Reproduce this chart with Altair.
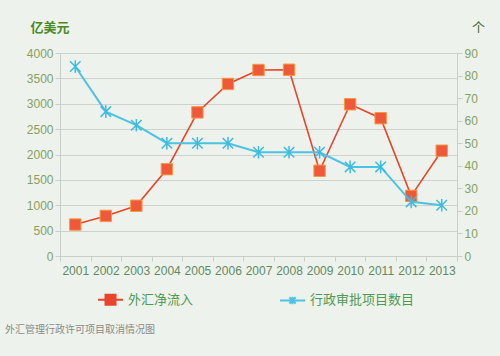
import altair as alt
import pandas as pd

years = ["2001", "2002", "2003", "2004", "2005", "2006", "2007",
         "2008", "2009", "2010", "2011", "2012", "2013"]
fx_inflow = [620, 790, 990, 1710, 2830, 3390, 3665, 3670, 1680, 2990, 2715, 1185, 2075]
approval_items = [84, 64, 58, 50, 50, 50, 46, 46, 46, 39.5, 39.5, 24, 22.5]
series_names = ["外汇净流入", "行政审批项目数目"]
series_colors = ["#e8452c", "#4cc3e2"]
legend_shapes = [
    "M-1,0L1,0M-0.4,-0.4L0.4,-0.4L0.4,0.4L-0.4,0.4ZM-0.28,-0.28L0.28,-0.28L0.28,0.28L-0.28,0.28Z"
    "M-0.16,-0.16L0.16,-0.16L0.16,0.16L-0.16,0.16ZM-0.05,-0.05L0.05,-0.05L0.05,0.05L-0.05,0.05Z",
    "M-1,0L1,0M-0.25,-0.25L0.25,0.25M-0.25,0.25L0.25,-0.25M0,-0.3L0,0.3",
]
left_ticks = [0, 500, 1000, 1500, 2000, 2500, 3000, 3500, 4000]
right_ticks = [0, 10, 20, 30, 40, 50, 60, 70, 80, 90]

df = pd.DataFrame({
    "year": years * 2,
    "series": [series_names[0]] * len(years) + [series_names[1]] * len(years),
    "value": fx_inflow + approval_items,
})

CJK = "Noto Sans CJK SC"
LAT = "Liberation Sans"

x_enc = alt.X("year:O", title=None,
              scale=alt.Scale(type="band", paddingInner=0, paddingOuter=0),
              bandPosition=0.5,
              axis=alt.Axis(labelAngle=0, labelFont=LAT, labelFontSize=12,
                            labelColor="#5f8a62", tickBand="extent",
                            domainColor="#c9cec9", tickColor="#c9cec9",
                            tickSize=5, labelPadding=4, grid=False))

base = alt.Chart(df).encode(x=x_enc)

left_y = alt.Y("value:Q", title="亿美元",
               scale=alt.Scale(domain=[0, 4000], nice=False),
               axis=alt.Axis(values=left_ticks, orient="left", grid=True, format="d",
                             gridColor="#cdd2cd", domainColor="#c9cec9",
                             tickColor="#c9cec9", tickSize=5,
                             labelFont=LAT, labelFontSize=12, labelColor="#86a062",
                             titleAngle=0, titleAlign="left", titleX=-30, titleY=-19,
                             titleFont=CJK, titleFontSize=13, titleColor="#4d8a24",
                             titleFontWeight="bold"))
right_y = alt.Y("value:Q", title="个",
                scale=alt.Scale(domain=[0, 90], nice=False),
                axis=alt.Axis(values=right_ticks, orient="right", grid=False, format="d",
                              domainColor="#c9cec9", tickColor="#c9cec9", tickSize=5,
                              labelFont=LAT, labelFontSize=12, labelColor="#86a062",
                              titleAngle=0, titleAlign="center", titleX=21, titleY=-19,
                              titleFont=CJK, titleFontSize=13, titleColor="#3f6a30",
                              titleFontWeight="normal"))

left_layer = alt.layer(
    base.mark_line(strokeWidth=1.6, color=series_colors[0]).encode(y=left_y),
    base.mark_point(shape="square", size=130, filled=True, fill="#f0583a",
                    stroke="#f59a40", strokeWidth=1, opacity=1).encode(y=left_y),
).transform_filter(alt.datum.series == series_names[0])

right_layer = alt.layer(
    base.mark_line(strokeWidth=2, color=series_colors[1]).encode(y=right_y),
    base.mark_point(shape="M-1,-1L1,1M-1,1L1,-1M0,-1.2L0,1.2", size=110, filled=False,
                    stroke="#3dbbe0", strokeWidth=1.5, opacity=1).encode(y=right_y),
).transform_filter(alt.datum.series == series_names[1])

legend_layer = base.mark_point(filled=False, opacity=0, size=1).encode(
    y=alt.Y("value:Q", axis=None),
    color=alt.Color("series:N", title=None,
                    scale=alt.Scale(domain=series_names, range=series_colors)),
    shape=alt.Shape("series:N", title=None,
                    scale=alt.Scale(domain=series_names, range=legend_shapes)),
)

chart = alt.layer(left_layer, right_layer, legend_layer).resolve_scale(
    y="independent"
).properties(
    width=397, height=203,
    autosize=alt.AutoSizeParams(type="none"),
    padding={"left": 60, "top": 53, "right": 43, "bottom": 100},
    title=alt.TitleParams("外汇管理行政许可项目取消情况图", orient="bottom", anchor="start",
                          frame="group", dx=-55, offset=16, font=CJK, fontSize=10,
                          fontWeight="normal", color="#8a8a8a"),
).configure(background="#eef2ec").configure_view(strokeWidth=0).configure_legend(
    orient="none", legendX=37, legendY=233, direction="horizontal",
    columnPadding=82, labelFont=CJK, labelFontSize=13, labelColor="#4f9a52",
    symbolSize=625, labelOffset=4, symbolOpacity=1, symbolStrokeWidth=2,
)

chart.save("out.html", embed_options={"renderer": "svg", "actions": False})
